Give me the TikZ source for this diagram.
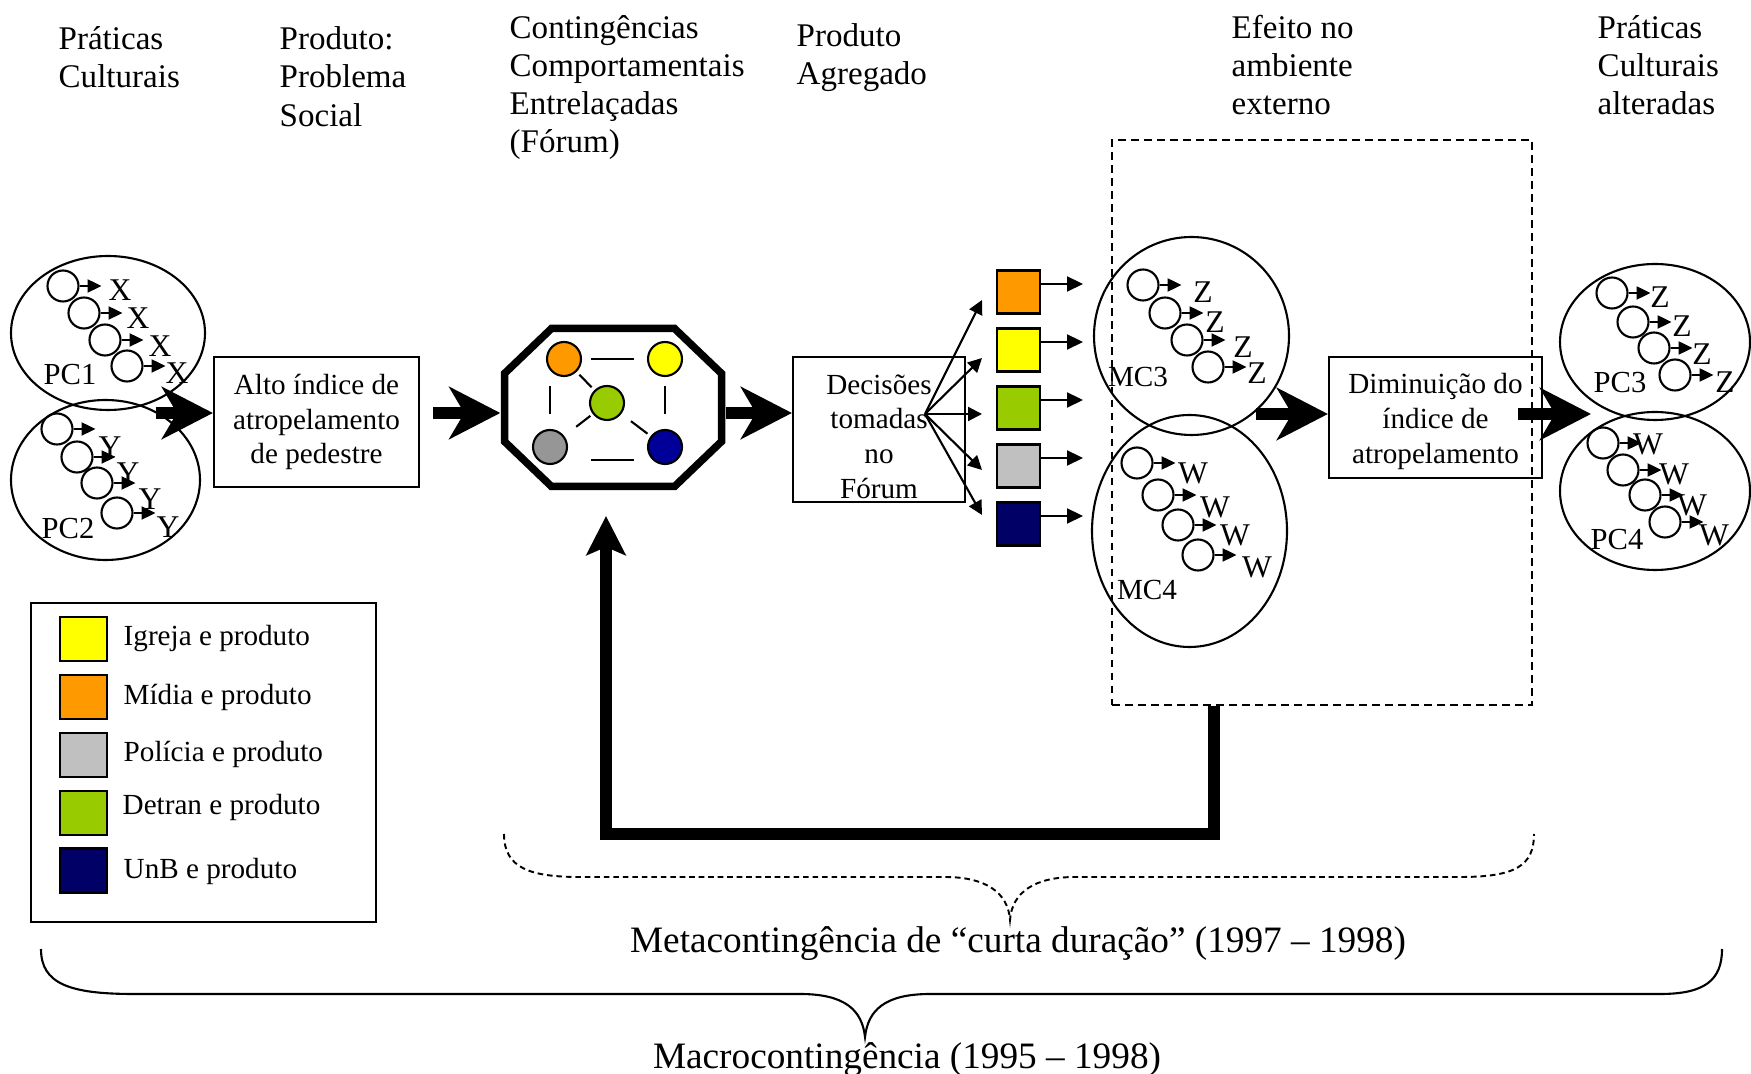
\documentclass[tikz,border=0pt]{standalone}
\usepackage{fontspec}
\setmainfont{Liberation Serif}
\usetikzlibrary{arrows.meta,calc,shapes.geometric}

\definecolor{cOrange}{HTML}{FF9900}
\definecolor{cYellow}{HTML}{FFFF00}
\definecolor{cGreen}{HTML}{99CC00}
\definecolor{cLGray}{HTML}{C0C0C0}
\definecolor{cGray}{HTML}{969696}
\definecolor{cNavy}{HTML}{000066}
\definecolor{cBlue}{HTML}{000099}

\newcommand{\fhdr}{\fontsize{9.4pt}{10.9pt}\selectfont}
\newcommand{\fsm}{\fontsize{8.3pt}{9.9pt}\selectfont}
\newcommand{\flab}{\fontsize{8.7pt}{10pt}\selectfont}
\newcommand{\flet}{\fontsize{9pt}{10pt}\selectfont}
\newcommand{\fmc}{\fontsize{8.3pt}{10pt}\selectfont}
\newcommand{\fbig}{\fontsize{10.6pt}{12pt}\selectfont}

\tikzset{
  hdr/.style={anchor=west, align=left, inner sep=0pt, font=\fhdr},
  boxnode/.style={draw, line width=0.6pt, align=center, inner sep=0pt, font=\fsm},
  oval/.style={draw, ellipse, line width=0.6pt, inner sep=0pt},
  dot/.style={draw, circle, line width=0.6pt, minimum size=3.1mm, inner sep=0pt},
  bigdot/.style={draw, circle, line width=0.6pt, minimum size=3.4mm, inner sep=0pt},
  letter/.style={inner sep=0pt, font=\flet},
  lab/.style={inner sep=0pt, font=\flab},
  mclab/.style={inner sep=0pt, font=\fmc},
  tinyarrow/.style={line width=0.6pt, -{Triangle[length=1.4mm,width=1.3mm]}},
  fanarrow/.style={line width=0.6pt, -{Triangle[length=1.4mm,width=1.4mm]}},
  sqarrow/.style={line width=0.6pt, -{Triangle[length=1.6mm,width=1.5mm]}},
  bigarrow/.style={line width=1.2mm, -{Stealth[length=5.1mm,width=5.2mm,inset=1.5mm]}},
  fbarrow/.style={line width=1.2mm, line join=miter, -{Stealth[length=3.9mm,width=3.9mm,inset=0.8mm]}},
  prodsq/.style={draw, line width=0.7pt, minimum width=4.3mm, minimum height=4.3mm, inner sep=0pt},
  legsq/.style={draw, line width=0.7pt, minimum width=4.7mm, minimum height=4.4mm, inner sep=0pt},
  legtext/.style={anchor=west, inner sep=0pt, font=\fsm},
  octline/.style={line width=0.6pt},
  dashbox/.style={draw, line width=0.55pt, dash pattern=on 2.2pt off 1.5pt, inner sep=0pt},
  bracedash/.style={line width=0.55pt, dash pattern=on 1.6pt off 1.1pt},
  bracesolid/.style={line width=0.6pt},
}

\newcommand{\mkgroup}[7]{%
  \node[dot] (#1c#2) at (#3,#4) {};
  \coordinate (#1t#2) at ($(#1c#2.east)+(22,0)$);
  \draw[tinyarrow] (#1c#2.east) -- (#1t#2);
  \node[letter] (#1l#2) at (#5,#6) {#7};
}

\begin{document}
\begin{tikzpicture}[x=0.1mm,y=-0.1mm]
\useasboundingbox (0,0) rectangle (1751,1074);

% headers
\node[hdr] (h1) at (58,57) {Práticas\\Culturais};
\node[hdr] (h2) at (279,76.5) {Produto:\\Problema\\Social};
\node[hdr] (h3) at (509,87.5) {Contingências\\Comportamentais\\Entrelaçadas\\(Fórum)};
\node[hdr] (h4) at (796,57.5) {Produto\\Agregado};
\node[hdr] (h5) at (1231,65) {Efeito no\\ambiente\\externo};
\node[hdr] (h6) at (1597,65) {Práticas\\Culturais\\alteradas};

% dashed box
\node[dashbox, minimum width=42mm, minimum height=56.5mm] (dbox) at (1322,422.5) {};

% left ellipses
\node[oval, minimum width=19.4mm, minimum height=15.4mm] (pc1) at (108,333) {};
\node[oval, minimum width=18.9mm, minimum height=16mm] (pc2) at (105.5,480) {};
\mkgroup{pa}{1}{63}{286}{120}{290}{X}
\mkgroup{pa}{2}{84}{313}{138}{318}{X}
\mkgroup{pa}{3}{105}{340}{160}{346}{X}
\mkgroup{pa}{4}{127}{366}{177}{373}{X}
\node[lab] (pc1l) at (70,375) {PC1};
\mkgroup{pb}{1}{57}{429}{110}{447}{Y}
\mkgroup{pb}{2}{77}{457}{128}{473}{Y}
\mkgroup{pb}{3}{97}{483}{150}{499}{Y}
\mkgroup{pb}{4}{117}{513}{168}{527}{Y}
\node[lab] (pc2l) at (68,529) {PC2};

% main line reference
\coordinate (ml) at (0,413);
\coordinate (pcout) at (156,413);

% Alto box
\node[boxnode, minimum width=20.5mm, minimum height=13mm] (alto) at (316.5,422) {Alto índice de\\atropelamento\\de pedestre};
\draw[bigarrow] (pcout) -- (pcout -| alto.west);

% octagon
\node[minimum width=22.4mm, minimum height=16.5mm, inner sep=0pt] (oct) at (613,407.5) {};
\draw[line width=0.75mm, line join=miter, fill=white]
  (504.5,373.5) -- (551.5,328.5) -- (674.5,328.5) -- (721.5,373.5) -- (721.5,441.5)
  -- (674.5,486.5) -- (551.5,486.5) -- (504.5,441.5) -- cycle;
\node[bigdot, fill=cOrange] (ocor) at (564,359) {};
\node[bigdot, fill=cYellow] (ocye) at (665,359) {};
\node[bigdot, fill=cGreen] (ocgr) at (607,403) {};
\node[bigdot, fill=cGray] (ocgy) at (550,447) {};
\node[bigdot, fill=cBlue] (ocbl) at (665,447) {};
\draw[octline, shorten <=0.9mm, shorten >=1.3mm] (ocor) -- (ocye);
\draw[octline, shorten <=2.8mm, shorten >=1.8mm] (ocgy.south east) -- (ocbl.south west);
\draw[octline, shorten <=1.5mm, shorten >=0.9mm] (ocgy.north) -- (ocgy.north |- ocor.south);
\draw[octline, shorten <=0.9mm, shorten >=1.5mm] (ocye) -- (ocbl);
\draw[octline, shorten <=0.4mm, shorten >=0.4mm] (ocor) -- (ocgr);
\draw[octline, shorten <=0.3mm, shorten >=1.5mm] (ocgr) -- (ocgy);
\draw[octline, shorten <=1.2mm, shorten >=0.4mm] (ocgr) -- (ocbl);

\draw[bigarrow, shorten <=1.3mm] (alto.east |- ml) -- (oct.west |- ml);

% Decisoes box
\node[boxnode, minimum width=17.2mm, minimum height=14.5mm] (dec) at (879,429.5) {\rule{0pt}{3.4mm}Decisões\\tomadas\\no\\Fórum};
\draw[bigarrow] (oct.east |- ml) -- (dec.west |- ml);

% fan
\coordinate (fan) at (925,414);
\foreach \i/\y in {1/300,2/358,3/414,4/470,5/515} {
  \coordinate (ft\i) at (982,\y);
  \draw[fanarrow] (fan) -- (ft\i);
}

% product squares
\foreach \i/\y/\c in {1/292/cOrange,2/350/cYellow,3/408/cGreen,4/466/cLGray,5/524/cNavy} {
  \node[prodsq, fill=\c] (sq\i) at (1018.5,\y) {};
  \coordinate (mt\i) at (1083,\y-8);
  \draw[sqarrow] (sq\i.east |- mt\i) -- (mt\i);
}

% MC circles
\node[oval, minimum width=19.5mm, minimum height=19.8mm] (mc3) at (1191.5,336) {};
\node[oval, minimum width=19.5mm, minimum height=23.2mm] (mc4) at (1189.5,531) {};
\mkgroup{ma}{1}{1143}{285}{1203}{292}{Z}
\mkgroup{ma}{2}{1165}{313}{1215}{322}{Z}
\mkgroup{ma}{3}{1187}{340}{1243}{347}{Z}
\mkgroup{ma}{4}{1208}{367}{1257}{373}{Z}
\node[mclab] (mc3l) at (1138,377) {MC3};
\mkgroup{mb}{1}{1137}{463}{1193}{473}{W}
\mkgroup{mb}{2}{1158}{495}{1215}{507}{W}
\mkgroup{mb}{3}{1178}{525}{1235}{535}{W}
\mkgroup{mb}{4}{1198}{555}{1257}{567}{W}
\node[mclab] (mc4l) at (1147,590) {MC4};

% Diminuicao box
\node[boxnode, minimum width=21.3mm, minimum height=12.1mm] (dim) at (1435.5,417.5) {\rule{0pt}{2.85mm}Diminuição do\\índice de\\atropelamento};
\coordinate (mcout) at (1256,414);
\draw[bigarrow] (mcout) -- (mcout -| dim.west);

% right ellipses
\node[oval, minimum width=19mm, minimum height=15.6mm] (pc3) at (1655,342) {};
\node[oval, minimum width=19mm, minimum height=15.8mm] (pc4) at (1655,491) {};
\mkgroup{pc}{1}{1612}{293}{1660}{297}{Z}
\mkgroup{pc}{2}{1633}{322}{1682}{326}{Z}
\mkgroup{pc}{3}{1654}{348}{1702}{354}{Z}
\mkgroup{pc}{4}{1675}{375}{1725}{382}{Z}
\node[lab] (pc3l) at (1620,383) {PC3};
\mkgroup{pd}{1}{1603}{443}{1648}{444}{W}
\mkgroup{pd}{2}{1623}{470}{1674}{474}{W}
\mkgroup{pd}{3}{1645}{495}{1692}{505}{W}
\mkgroup{pd}{4}{1665}{522}{1714}{535}{W}
\node[lab] (pc4l) at (1617,540) {PC4};

\coordinate (dimout) at (1518,414);
\coordinate (pcin) at (1591,414);
\draw[bigarrow] (dimout) -- (pcin);

% feedback
\coordinate (fb1) at (1214,834);
\coordinate (fb2) at (606,834);
\coordinate (fbtip) at (606,516);
\draw[fbarrow] (dbox.south -| fb1) -- (fb1) -- (fb2) -- (fbtip);

% legend
\node[draw, line width=0.6pt, minimum width=34.5mm, minimum height=31.9mm, inner sep=0pt] (legend) at (203.5,762.5) {};
\node[legsq, fill=cYellow] (lg1) at (83.5,639) {};
\node[legsq, fill=cOrange] (lg2) at (83.5,697) {};
\node[legsq, fill=cLGray] (lg3) at (83.5,755) {};
\node[legsq, fill=cGreen] (lg4) at (83.5,813) {};
\node[legsq, fill=cNavy] (lg5) at (83.5,870.5) {};
\node[legtext] (lt1) at (123,639) {Igreja e produto};
\node[legtext] (lt2) at (123,697) {Mídia e produto};
\node[legtext] (lt3) at (123,754) {Polícia e produto};
\node[legtext] (lt4) at (122,807) {Detran e produto};
\node[legtext] (lt5) at (123,871) {UnB e produto};

% braces
\draw[bracedash] (504,834) .. controls (504,868) and (530,877) .. (580,877) -- (945,877)
  .. controls (985,877) and (1008,892) .. (1010,920)
  .. controls (1012,892) and (1035,877) .. (1075,877) -- (1460,877)
  .. controls (1515,877) and (1534,866) .. (1534,834);
\node[inner sep=0pt, font=\fbig] (meta) at (1018,944) {Metacontingência de “curta duração” (1997 – 1998)};

\draw[bracesolid] (41,949) .. controls (41,984) and (70,994) .. (134,994) -- (800,994)
  .. controls (845,994) and (862,1010) .. (865,1037)
  .. controls (868,1010) and (885,994) .. (930,994) -- (1660,994)
  .. controls (1705,994) and (1722,980) .. (1722,949);
\node[inner sep=0pt, font=\fbig] (macro) at (907,1060) {Macrocontingência (1995 – 1998)};
\end{tikzpicture}
\end{document}
